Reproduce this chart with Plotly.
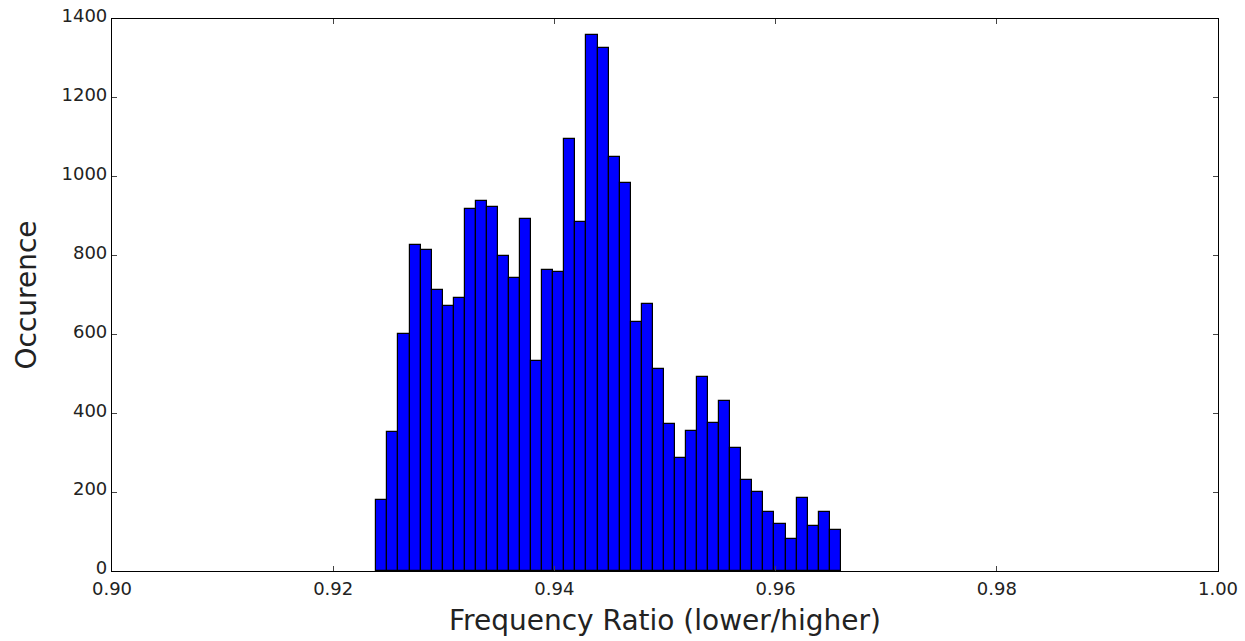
import numpy as np
import plotly.graph_objects as go

# Histogram data
bin_start = 0.9239
bin_width = 0.001
counts = [181, 352, 602, 828, 813, 713, 673, 693, 919, 938, 924, 798, 742, 894, 532,
          763, 758, 1095, 884, 1360, 1326, 1050, 984, 632, 677, 512, 372, 286, 356,
          491, 376, 430, 312, 230, 200, 150, 120, 80, 186, 115, 150, 105]
x_ticks = [0.90, 0.92, 0.94, 0.96, 0.98, 1.00]
y_ticks = [0, 200, 400, 600, 800, 1000, 1200, 1400]

centers = [round(bin_start + bin_width * (i + 0.5), 6) for i in range(len(counts))]

fig = go.Figure()
fig.add_trace(go.Bar(
    x=centers, y=counts, width=[bin_width] * len(counts),
    marker=dict(color="#0000FF", line=dict(color="black", width=1.2)),
    showlegend=False, hoverinfo="x+y",
))

axis_common = dict(
    showgrid=False, zeroline=False, showline=True, linecolor="black", linewidth=1.2,
    mirror="ticks", ticks="inside", ticklen=5, tickcolor="#444", tickwidth=1,
    automargin=False,
    tickfont=dict(family="DejaVu Sans", size=18, color="#222"),
)

fig.update_layout(
    width=1245, height=641,
    margin=dict(l=112, r=27, t=19, b=70),
    paper_bgcolor="white", plot_bgcolor="white",
    bargap=0,
    xaxis=dict(range=[0.90, 1.00], tickvals=x_ticks, tickformat=".2f",
               ticklabelstandoff=1,
               title=dict(text="Frequency Ratio (lower/higher)", standoff=12,
                          font=dict(family="DejaVu Sans", size=28, color="#222")),
               **axis_common),
    yaxis=dict(range=[0, 1400], tickvals=y_ticks, ticklabelshift=-3,
               title=dict(text="Occurence", standoff=16,
                          font=dict(family="DejaVu Sans", size=28, color="#222")),
               **axis_common),
)

fig.write_html("out.html")
